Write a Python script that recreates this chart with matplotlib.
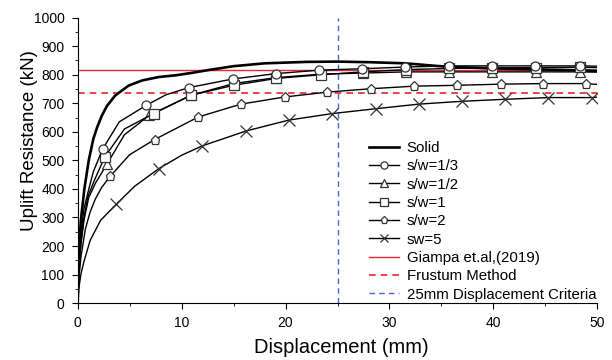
import matplotlib
matplotlib.use('Agg')
import matplotlib.pyplot as plt
from matplotlib.ticker import MultipleLocator

plt.rcParams['font.family'] = ['Liberation Sans', 'DejaVu Sans']

# Solid slab
solid_x = [0, 0.15, 0.3, 0.64, 1.06, 1.5, 1.86, 2.3, 2.8, 3.6, 4.9, 6.2, 7.8, 9.4, 10.9, 12.5, 15, 18, 22, 25, 28, 31.5, 35.5, 40, 45, 50]
solid_y = [0, 200, 290, 400, 500, 575, 615, 655, 690, 727, 762, 780, 792, 798, 806, 816, 830, 840, 845, 846, 844, 840, 828, 822, 818, 814]

# s/w = 1/3 (circles)
sw13_x = [0, 0.1, 0.3, 0.6, 1.0, 1.5, 2.4, 4.0, 6.6, 8.5, 10.7, 14.9, 19.1, 23.2, 27.4, 31.5, 35.7, 39.9, 44.0, 48.3, 50]
sw13_y = [0, 120, 240, 330, 390, 460, 540, 635, 693, 730, 755, 785, 804, 816, 821, 827, 831, 831, 831, 831, 830]
sw13_marks = [6, 8] + list(range(10, 20))

# s/w = 1/2 (triangles)
sw12_x = [0, 0.1, 0.3, 0.6, 1.06, 1.7, 2.8, 4.5, 6.9, 10.9, 15.0, 19.1, 23.4, 27.5, 31.6, 35.7, 39.9, 44.1, 48.3, 50]
sw12_y = [0, 100, 200, 290, 370, 420, 486, 590, 658, 728, 769, 790, 802, 806, 810, 810, 810, 810, 810, 809]
sw12_marks = [6] + list(range(8, 19))

# s/w = 1 (squares)
sw1_x = [0, 0.1, 0.3, 0.6, 1.0, 1.6, 2.6, 4.5, 7.3, 10.9, 15.0, 19.1, 23.4, 27.5, 31.6, 35.7, 39.9, 44.1, 48.3, 50]
sw1_y = [0, 110, 215, 300, 375, 430, 512, 610, 664, 728, 763, 787, 800, 810, 818, 822, 824, 825, 826, 825]
sw1_marks = [6] + list(range(8, 19))

# s/w = 2 (pentagons)
sw2_x = [0, 0.1, 0.3, 0.74, 1.2, 1.7, 2.3, 3.14, 5.0, 7.4, 11.6, 15.7, 19.9, 24.0, 28.2, 32.4, 36.5, 40.7, 44.8, 48.9, 50]
sw2_y = [0, 80, 160, 260, 320, 365, 405, 445, 520, 573, 652, 697, 722, 739, 751, 760, 763, 767, 769, 769, 766]
sw2_marks = [7] + list(range(9, 20))

# s/w = 5 (crosses)
sw5_x = [0, 0.1, 0.3, 0.58, 1.2, 2.2, 3.7, 5.5, 7.8, 10.0, 12.0, 16.2, 20.3, 24.5, 28.7, 32.8, 37.0, 41.1, 45.3, 49.5, 50]
sw5_y = [0, 50, 100, 143, 220, 290, 346, 410, 471, 518, 551, 603, 641, 664, 681, 697, 707, 714, 720, 720, 722]
sw5_marks = [6, 8] + list(range(10, 20))

giampa = 818
frustum = 735
criteria = 25

fig, ax = plt.subplots(figsize=(6.12, 3.6), dpi=100)
fig.subplots_adjust(left=0.127, right=0.976, bottom=0.158, top=0.951)

mk = dict(color='black', lw=1.0, markerfacecolor='white', markeredgecolor='#333333',
          markeredgewidth=0.9, markersize=6.5)

ax.plot(solid_x, solid_y, color='black', lw=1.9, label='Solid', zorder=4)
ax.plot(sw13_x, sw13_y, marker='o', markevery=sw13_marks, label='s/w=1/3', zorder=5, **mk)
ax.plot(sw12_x, sw12_y, marker='^', markevery=sw12_marks, label='s/w=1/2', zorder=3, **mk)
ax.plot(sw1_x, sw1_y, marker='s', markevery=sw1_marks, label='s/w=1', zorder=4, **mk)
ax.plot(sw2_x, sw2_y, marker='p', markevery=sw2_marks, label='s/w=2', zorder=3, **mk)
ax.plot(sw5_x, sw5_y, marker='x', markevery=sw5_marks, label='sw=5', zorder=3,
        color='black', lw=1.0, markeredgecolor='#333333', markeredgewidth=0.9, markersize=8)

ax.axhline(giampa, color='#e8232a', lw=1.0, label='Giampa et.al,(2019)', zorder=2)
ax.axhline(frustum, color='#e8232a', lw=1.2, ls=(0, (4, 3)), label='Frustum Method', zorder=2)
ax.axvline(criteria, color='#4a64e0', lw=1.0, ls=(0, (4, 3)), label='25mm Displacement Criteria', zorder=2)

ax.set_xlim(0, 50)
ax.set_ylim(0, 1000)
ax.xaxis.set_major_locator(MultipleLocator(10))
ax.xaxis.set_minor_locator(MultipleLocator(5))
ax.yaxis.set_major_locator(MultipleLocator(100))
ax.yaxis.set_minor_locator(MultipleLocator(50))
ax.spines['top'].set_visible(False)
ax.spines['right'].set_visible(False)
ax.tick_params(which='both', direction='out', labelsize=10, pad=5)
ax.tick_params(which='major', length=4.5)
ax.tick_params(which='minor', length=2.5)

ax.set_xlabel('Displacement (mm)', fontsize=14.5)
ax.set_ylabel('Uplift Resistance (kN)', fontsize=13.5)
ax.xaxis.set_label_coords(0.507, -0.123)
ax.yaxis.set_label_coords(-0.077, 0.568)

ax.legend(loc='lower left', bbox_to_anchor=(0.558, 0.0), frameon=False, fontsize=10.8,
          handlelength=2.0, labelspacing=0.29, handletextpad=0.5, borderaxespad=0,
          borderpad=0.1, markerscale=0.8)

plt.savefig('out.png', dpi=100)
